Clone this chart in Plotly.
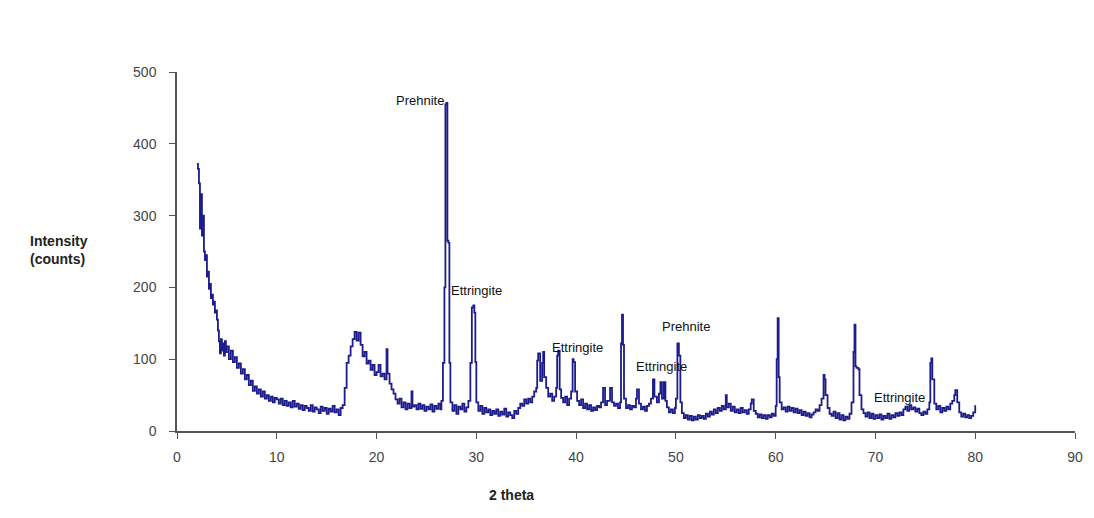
import plotly.graph_objects as go

# XRD scan: diffraction angle (2 theta, degrees) and detector counts
two_theta = [
    2.0, 2.1, 2.2, 2.3, 2.4, 2.5, 2.6, 2.7, 2.8, 2.9,
    3.0, 3.1, 3.2, 3.3, 3.4, 3.5, 3.6, 3.7, 3.8, 3.9,
    4.0, 4.1, 4.2, 4.3, 4.4, 4.5, 4.6, 4.7, 4.8, 4.9,
    5.0, 5.2, 5.4, 5.6, 5.8, 6.0, 6.2, 6.4, 6.6, 6.8,
    7.0, 7.2, 7.4, 7.6, 7.8, 8.0, 8.2, 8.4, 8.6, 8.8,
    9.0, 9.2, 9.4, 9.6, 9.8, 10.0, 10.2, 10.4, 10.6, 10.8,
    11.0, 11.2, 11.4, 11.6, 11.8, 12.0, 12.2, 12.4, 12.6, 12.8,
    13.0, 13.2, 13.4, 13.6, 13.8, 14.0, 14.2, 14.4, 14.6, 14.8,
    15.0, 15.2, 15.4, 15.6, 15.8, 16.0, 16.2, 16.4, 16.6, 16.8,
    17.0, 17.2, 17.4, 17.6, 17.8, 18.0, 18.2, 18.4, 18.6, 18.8,
    19.0, 19.2, 19.4, 19.6, 19.8, 20.0, 20.2, 20.4, 20.6, 20.8,
    21.0, 21.1, 21.3, 21.5, 21.7, 21.9, 22.1, 22.3, 22.5, 22.7,
    22.9, 23.1, 23.3, 23.5, 23.6, 23.8, 24.0, 24.2, 24.4, 24.6,
    24.8, 25.0, 25.2, 25.4, 25.6, 25.8, 26.0, 26.2, 26.4, 26.5,
    26.65, 26.8, 26.9, 27.0, 27.1, 27.2, 27.3, 27.4, 27.6, 27.8,
    28.0, 28.2, 28.4, 28.6, 28.8, 29.0, 29.2, 29.4, 29.55, 29.7,
    29.8, 29.9, 30.0, 30.2, 30.4, 30.6, 30.8, 31.0, 31.2, 31.4,
    31.6, 31.8, 32.0, 32.2, 32.4, 32.6, 32.8, 33.0, 33.2, 33.4,
    33.6, 33.8, 34.0, 34.2, 34.4, 34.6, 34.8, 35.0, 35.2, 35.4,
    35.6, 35.8, 36.0, 36.1, 36.2, 36.4, 36.6, 36.7, 36.8, 37.0,
    37.2, 37.4, 37.6, 37.8, 38.0, 38.1, 38.2, 38.35, 38.5, 38.7,
    38.9, 39.1, 39.3, 39.5, 39.65, 39.75, 39.9, 40.1, 40.3, 40.5,
    40.7, 40.9, 41.1, 41.3, 41.5, 41.7, 41.9, 42.1, 42.3, 42.5,
    42.7, 42.9, 43.1, 43.4, 43.6, 43.8, 44.0, 44.2, 44.4, 44.5,
    44.6, 44.7, 44.8, 45.0, 45.2, 45.4, 45.6, 45.8, 46.0, 46.1,
    46.3, 46.5, 46.7, 46.9, 47.1, 47.3, 47.5, 47.7, 47.85, 48.1,
    48.3, 48.45, 48.6, 48.8, 48.95, 49.1, 49.3, 49.5, 49.7, 49.9,
    50.0, 50.15, 50.3, 50.45, 50.6, 50.8, 51.0, 51.2, 51.4, 51.6,
    51.8, 52.0, 52.2, 52.4, 52.6, 52.8, 53.0, 53.2, 53.4, 53.6,
    53.8, 54.0, 54.2, 54.4, 54.6, 54.8, 55.0, 55.1, 55.3, 55.5,
    55.7, 55.9, 56.1, 56.3, 56.5, 56.7, 56.9, 57.1, 57.3, 57.5,
    57.6, 57.8, 58.0, 58.2, 58.4, 58.6, 58.8, 59.0, 59.2, 59.4,
    59.6, 59.8, 60.0, 60.1, 60.2, 60.3, 60.4, 60.6, 60.8, 61.0,
    61.2, 61.4, 61.6, 61.8, 62.0, 62.2, 62.4, 62.6, 62.8, 63.0,
    63.2, 63.4, 63.6, 63.8, 64.0, 64.2, 64.4, 64.6, 64.8, 64.9,
    65.0, 65.2, 65.4, 65.6, 65.8, 66.0, 66.2, 66.4, 66.6, 66.8,
    67.0, 67.2, 67.4, 67.6, 67.8, 67.9, 68.0, 68.1, 68.3, 68.4,
    68.6, 68.8, 69.0, 69.2, 69.4, 69.6, 69.8, 70.0, 70.2, 70.4,
    70.6, 70.8, 71.0, 71.2, 71.4, 71.6, 71.8, 72.0, 72.2, 72.4,
    72.6, 72.8, 73.0, 73.2, 73.4, 73.6, 73.8, 74.0, 74.2, 74.4,
    74.6, 74.8, 75.0, 75.2, 75.4, 75.5, 75.6, 75.7, 75.9, 76.1,
    76.3, 76.5, 76.7, 76.9, 77.1, 77.3, 77.5, 77.7, 77.9, 78.0,
    78.2, 78.4, 78.6, 78.8, 79.0, 79.2, 79.4, 79.6, 79.8, 80.0,
]

counts = [
    372, 365, 345, 282, 330, 272, 300, 250, 238, 245,
    215, 222, 198, 205, 185, 190, 176, 180, 165, 168,
    155, 140, 125, 108, 128, 112, 122, 105, 125, 110,
    118, 100, 112, 96, 103, 88, 94, 80, 86, 72,
    78, 64, 70, 56, 62, 52, 58, 48, 55, 45,
    50, 42, 48, 40, 46, 44, 38, 45, 36, 42,
    35, 40, 33, 42, 34, 38, 31, 36, 29, 35,
    32, 28, 36, 27, 33, 30, 25, 34, 28, 32,
    24, 31, 27, 35, 26, 30, 22, 32, 36, 60,
    95, 105, 118, 128, 138, 126, 137, 120, 104, 110,
    94, 98, 85, 92, 78, 82, 92, 76, 80, 72,
    114, 80, 66, 58, 52, 44, 38, 45, 33, 40,
    30, 38, 32, 55, 34, 36, 30, 38, 31, 36,
    28, 34, 30, 37, 27, 35, 31, 38, 30, 42,
    95, 200, 455, 457, 265, 262, 95, 40, 28, 36,
    24, 34, 30, 38, 27, 33, 42, 95, 172, 175,
    165, 96, 40, 28, 35, 24, 32, 26, 30, 22,
    28, 24, 30, 21, 27, 23, 31, 20, 26, 22,
    18, 28, 24, 32, 38, 35, 44, 38, 45, 40,
    48, 55, 60, 98, 108, 70, 95, 110, 75, 60,
    48, 52, 42, 48, 60, 105, 112, 58, 46, 40,
    48, 36, 45, 55, 100, 96, 55, 42, 36, 44,
    32, 38, 30, 36, 28, 33, 29, 35, 33, 40,
    60, 36, 42, 60, 40, 35, 38, 32, 40, 122,
    162, 120, 45, 32, 36, 30, 35, 33, 45, 58,
    38, 30, 34, 28, 35, 38, 45, 72, 48, 40,
    52, 68, 45, 68, 42, 33, 26, 30, 25, 32,
    45, 122, 105, 40, 25, 18, 22, 16, 21, 15,
    20, 16, 22, 18, 21, 17, 24, 20, 27, 23,
    30, 25, 32, 28, 35, 30, 50, 33, 38, 28,
    34, 26, 30, 25, 32, 26, 29, 24, 30, 38,
    44, 28, 24, 19, 23, 18, 22, 17, 22, 19,
    24, 21, 35, 100, 157, 75, 40, 30, 33, 27,
    34, 28, 32, 26, 31, 25, 29, 22, 27, 21,
    25, 19, 23, 26, 30, 28, 36, 45, 78, 72,
    50, 32, 24, 21, 27, 18, 25, 16, 22, 15,
    20, 17, 24, 40, 110, 148, 90, 88, 86, 50,
    30, 25, 20, 26, 18, 24, 17, 22, 18, 23,
    16, 21, 18, 24, 17, 22, 19, 25, 21, 26,
    22, 30, 34, 28, 36, 30, 33, 27, 31, 25,
    22, 27, 24, 30, 40, 95, 101, 72, 38, 30,
    35, 26, 32, 28, 34, 30, 38, 42, 50, 57,
    40, 26, 20, 24, 19, 22, 18, 21, 26, 36,
]

# Phase identifications placed beside their reflections
phase_names = ["Prehnite", "Ettringite", "Ettringite", "Prehnite", "Ettringite", "Ettringite"]
phase_x = [24.4, 30.0, 40.1, 51.0, 48.6, 72.4]
phase_y = [461, 195, 116, 146, 90, 46]

y_ticks = [0, 100, 200, 300, 400, 500]
x_ticks = [0, 10, 20, 30, 40, 50, 60, 70, 80, 90]

fig = go.Figure()
fig.add_trace(go.Scatter(
    x=two_theta, y=counts, mode="lines",
    line=dict(color="#1c1c8a", width=1.8, shape="hv"),
    showlegend=False, hoverinfo="skip",
))

for name, px, py in zip(phase_names, phase_x, phase_y):
    fig.add_annotation(
        x=px, y=py, text=name, showarrow=False,
        font=dict(family="Liberation Sans, Arial", size=13, color="#111111"),
        xanchor="center", yanchor="middle",
    )

fig.add_annotation(
    xref="paper", yref="paper", x=-0.131, y=0.505,
    text="<b>Intensity<br>(counts)</b>", showarrow=False, align="left",
    font=dict(family="Liberation Sans, Arial", size=14, color="#222222"),
    xanchor="center", yanchor="middle",
)
fig.add_annotation(
    xref="paper", yref="paper", x=0.373, y=-0.178,
    text="<b>2 theta</b>", showarrow=False,
    font=dict(family="Liberation Sans, Arial", size=14, color="#222222"),
    xanchor="center", yanchor="middle",
)

axis_common = dict(
    showgrid=False, zeroline=False, showline=True,
    linecolor="#555555", linewidth=1.5,
    ticks="outside", ticklen=6, tickcolor="#555555", tickwidth=1.2,
    tickfont=dict(family="Liberation Sans, Arial", size=14, color="#444444"),
)

fig.update_xaxes(range=[0, 90], tickvals=x_ticks, ticklabelstandoff=6, **axis_common)
fig.update_yaxes(range=[0, 500], tickvals=y_ticks, ticklabelstandoff=10, **axis_common)

fig.update_layout(
    width=1094, height=518,
    margin=dict(l=177, r=19, t=72, b=87),
    paper_bgcolor="white", plot_bgcolor="white",
)

fig.write_html("out.html")
